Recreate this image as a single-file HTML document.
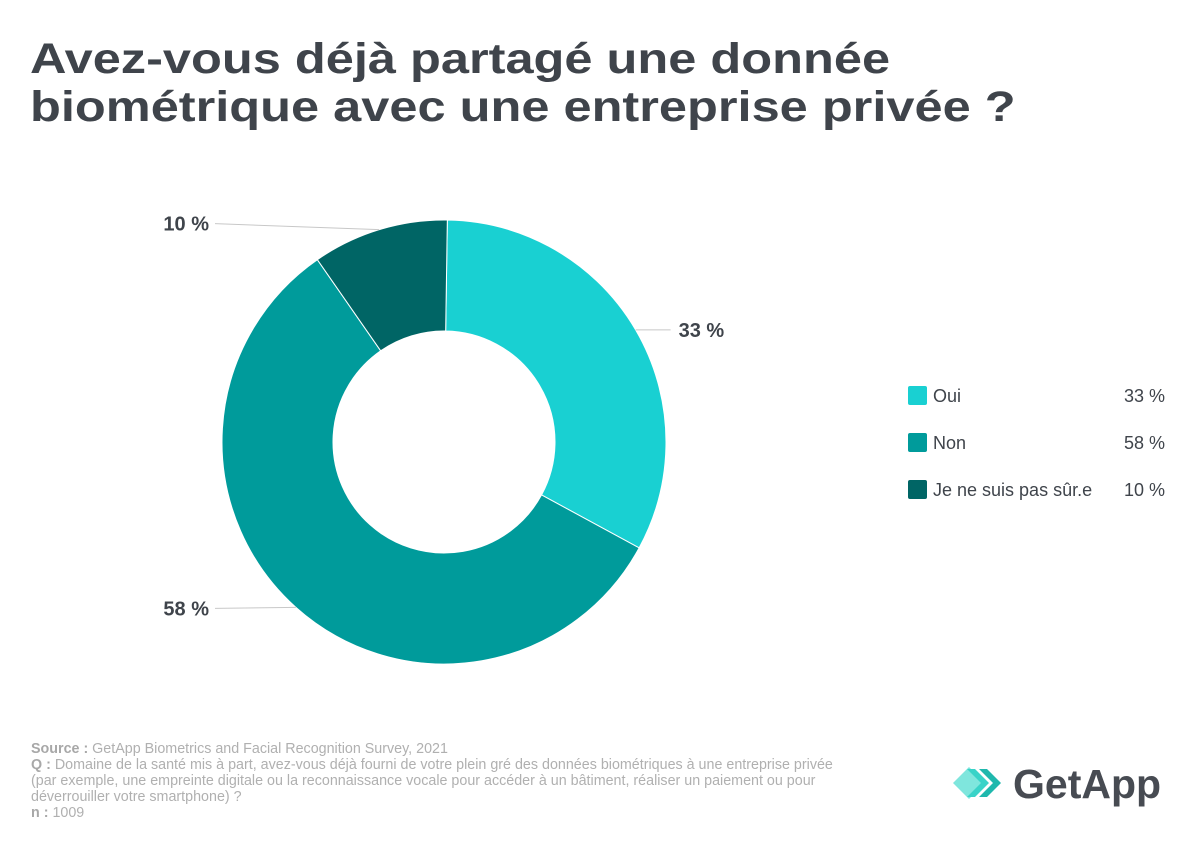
<!DOCTYPE html>
<html><head><meta charset="utf-8"><style>
body{margin:0;width:1200px;height:850px;background:#fff;font-family:"Liberation Sans",sans-serif;overflow:hidden;position:relative}
h1{position:absolute;left:30px;top:35px;margin:0;font-size:43px;line-height:48px;font-weight:bold;color:#3f444b;transform:scaleX(1.175);transform-origin:0 0;white-space:nowrap}
.foot{position:absolute;left:31px;top:741px;font-size:14.3px;line-height:16px;color:#b0b0b0;white-space:nowrap}
.foot b{color:#a8a8a8}
</style></head><body>
<h1>Avez-vous déjà partagé une donnée<br>biométrique avec une entreprise privée ?</h1>
<svg id="chart" width="1200" height="850" style="position:absolute;left:0;top:0"></svg>
<div class="foot"><b>Source :</b> GetApp Biometrics and Facial Recognition Survey, 2021<br><b>Q :</b> Domaine de la santé mis à part, avez-vous déjà fourni de votre plein gré des données biométriques à une entreprise privée<br>(par exemple, une empreinte digitale ou la reconnaissance vocale pour accéder à un bâtiment, réaliser un paiement ou pour<br>déverrouiller votre smartphone) ?<br><b>n :</b> 1009</div>
<svg width="230" height="60" style="position:absolute;left:945px;top:755px">
<polygon points="8,28 24,12 40,28 24,44" fill="#7fe6dd"/>
<polygon points="22,14 30,14 44,28 30,42 22,42 36,28" fill="#39d3c8"/>
<polygon points="34,14 42,14 56,28 42,42 34,42 48,28" fill="#1fb8ad"/>
<text x="68" y="43" font-size="41" font-weight="bold" fill="#474b52" font-family="Liberation Sans,sans-serif">GetApp</text>
</svg>
<script>
const categories=["Oui","Non","Je ne suis pas sûr.e"];
const values=[33,58,10];
const labels=["33 %","58 %","10 %"];
const colors=["#19d0d2","#009b9b","#006565"];
const svg=document.getElementById('chart');
const NS="http://www.w3.org/2000/svg";
const cx=444,cy=442,R=222,r=111;
const offset=0.015;
const total=values.reduce((a,b)=>a+b,0);
function pt(a,rad){return [cx+rad*Math.sin(a),cy-rad*Math.cos(a)];}
let acc=0;
values.forEach((v,i)=>{
  const a0=offset+acc/total*2*Math.PI; acc+=v; const a1=offset+acc/total*2*Math.PI;
  const large=(a1-a0)>Math.PI?1:0;
  const p0=pt(a0,R),p1=pt(a1,R),q1=pt(a1,r),q0=pt(a0,r);
  const p=document.createElementNS(NS,'path');
  p.setAttribute('d',`M${p0[0]},${p0[1]}A${R},${R} 0 ${large} 1 ${p1[0]},${p1[1]}L${q1[0]},${q1[1]}A${r},${r} 0 ${large} 0 ${q0[0]},${q0[1]}Z`);
  p.setAttribute('fill',colors[i]);p.setAttribute('stroke','#fff');p.setAttribute('stroke-width','1');
  
  
  svg.appendChild(p);
  const am=(a0+a1)/2, m=pt(am,R);
  const right=Math.sin(am)>0;
  const lx=right?m[0]+35:215, ly=right?m[1]:m[1]+(Math.cos(am)>0?-6:1);
  const ln=document.createElementNS(NS,'line');
  ln.setAttribute('x1',m[0]);ln.setAttribute('y1',m[1]);ln.setAttribute('x2',lx);ln.setAttribute('y2',ly);
  ln.setAttribute('stroke','#c8c8c8');ln.setAttribute('stroke-width','1');
  
  
  svg.appendChild(ln);
  const t=document.createElementNS(NS,'text');
  t.setAttribute('x',right?lx+8:lx-6);t.setAttribute('y',ly+7);
  t.setAttribute('text-anchor',right?'start':'end');
  t.setAttribute('font-size','20');t.setAttribute('font-weight','bold');t.setAttribute('fill','#3f444b');
  t.textContent=labels[i];
  
  
  svg.appendChild(t);
  const ly2=395+i*47;
  const sq=document.createElementNS(NS,'rect');
  sq.setAttribute('x',908);sq.setAttribute('y',ly2-9);sq.setAttribute('width',19);sq.setAttribute('height',19);sq.setAttribute('rx',2);
  sq.setAttribute('fill',colors[i]);
  
  
  svg.appendChild(sq);
  const lt=document.createElementNS(NS,'text');
  lt.setAttribute('x',933);lt.setAttribute('y',ly2+7);lt.setAttribute('font-size','18');lt.setAttribute('fill','#3f444b');
  lt.textContent=categories[i];
  
  
  svg.appendChild(lt);
  const lv=document.createElementNS(NS,'text');
  lv.setAttribute('x',1165);lv.setAttribute('y',ly2+7);lv.setAttribute('font-size','18');lv.setAttribute('fill','#3f444b');lv.setAttribute('text-anchor','end');
  lv.textContent=labels[i];
  
  
  svg.appendChild(lv);
});
</script>
</body></html>
